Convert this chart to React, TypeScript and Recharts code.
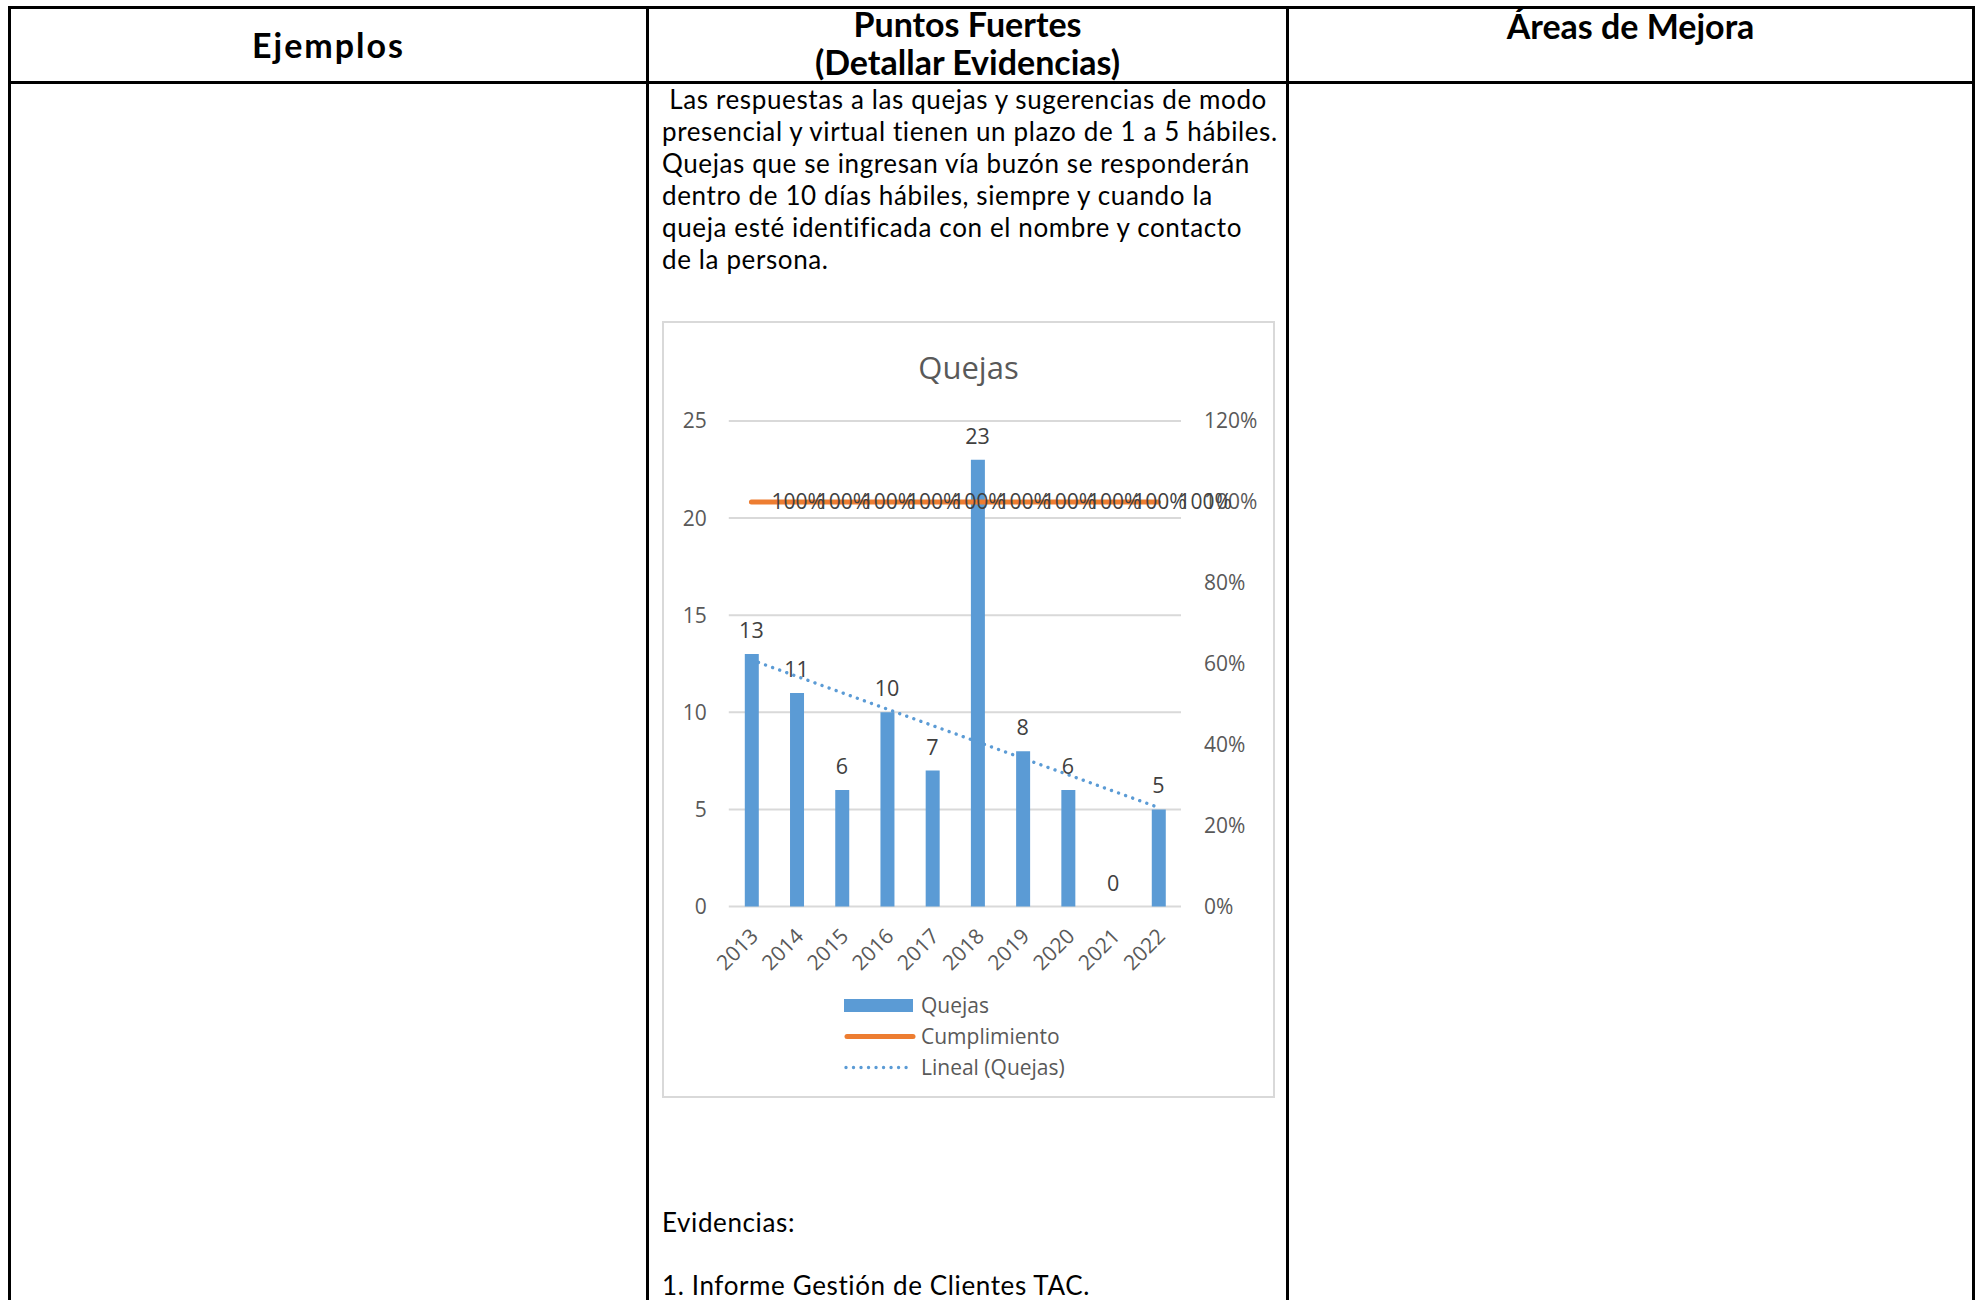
import React from 'react';
import { ComposedChart, Bar, Line, XAxis, YAxis, CartesianGrid, LabelList, Legend } from 'recharts';

const years = ['2013', '2014', '2015', '2016', '2017', '2018', '2019', '2020', '2021', '2022'];
const quejas = [13, 11, 6, 10, 7, 23, 8, 6, 0, 5];
const cumplimiento = [1, 1, 1, 1, 1, 1, 1, 1, 1, 1];
// trendline end points
const tendencia: (number | null)[] = [12.7, null, null, null, null, null, null, null, null, 5.1];
const leftTicks = [0, 5, 10, 15, 20, 25];
const rightTicks = [0, 0.2, 0.4, 0.6, 0.8, 1, 1.2];

const headers = ['Ejemplos', 'Puntos Fuertes', '(Detallar Evidencias)', 'Áreas de Mejora'];
const bodyLines = [
  ' Las respuestas a las quejas y sugerencias de modo',
  'presencial y virtual tienen un plazo de 1 a 5 hábiles.',
  'Quejas que se ingresan vía buzón se responderán',
  'dentro de 10 días hábiles, siempre y cuando la',
  'queja esté identificada con el nombre y contacto',
  'de la persona.',
];
const evidenceLines = ['Evidencias:', '1. Informe Gestión de Clientes TAC.'];
const legendNames = ['Quejas', 'Cumplimiento', 'Lineal (Quejas)'];

const data = years.map((y, i) => ({
  year: y,
  quejas: quejas[i],
  cumplimiento: cumplimiento[i],
  tendencia: tendencia[i],
}));

const CF = "'Open Sans', sans-serif";
const DF = "Lato, sans-serif";
const BLUE = '#5b9bd5';
const ORANGE = '#ed7d31';

const pct = (v: number) => `${Math.round(v * 100)}%`;

const YearTick = (props: any) => {
  const { x, y, payload } = props;
  const ax = x + 8;
  const ay = y + 31;
  return (
    <text x={ax} y={ay} transform={`rotate(-45, ${ax}, ${ay})`} textAnchor="end" fill="#595959" fontSize={21} fontFamily={CF}>
      {payload.value}
    </text>
  );
};

const renderLegend = () => (
  <div style={{ fontFamily: CF, fontSize: 21, color: '#595959' }}>
    {legendNames.map((n, i) => (
      <div key={n} style={{ display: 'flex', alignItems: 'center', height: 31, whiteSpace: 'nowrap' }}>
        <svg width={77} height={31} style={{ display: 'block' }}>
          {i === 0 && <rect x={0} y={9} width={69} height={13} fill={BLUE} />}
          {i === 1 && <line x1={3} y1={15.5} x2={69} y2={15.5} stroke={ORANGE} strokeWidth={5} strokeLinecap="round" />}
          {i === 2 && <line x1={2} y1={15.5} x2={66} y2={15.5} stroke={BLUE} strokeWidth={3.4} strokeDasharray="0.01 7.5" strokeLinecap="round" />}
        </svg>
        <span>{n}</span>
      </div>
    ))}
  </div>
);

const Chart = () => (
  <div style={{ position: 'absolute', left: 662, top: 321, width: 613, height: 777, border: '2px solid #d9d9d9', boxSizing: 'border-box', background: '#fff' }}>
    <div style={{ position: 'absolute', left: 0, top: 28.5, width: '100%', textAlign: 'center', fontFamily: CF, fontSize: 31, lineHeight: 1, color: '#595959' }}>
      Quejas
    </div>
    <ComposedChart width={609} height={773} data={data} margin={{ top: 98, right: 0, bottom: 0, left: 0 }}>
      <CartesianGrid yAxisId="left" vertical={false} stroke="#d9d9d9" strokeWidth={2} />
      <XAxis dataKey="year" height={189.5} axisLine={false} tickLine={false} tickSize={0} tickMargin={0} tick={<YearTick />} interval={0} />
      <YAxis yAxisId="left" orientation="left" width={64.8} domain={[0, 25]} ticks={leftTicks} axisLine={false} tickLine={false} tickSize={0} tickMargin={22} tick={{ fill: '#595959', fontSize: 21, fontFamily: CF }} />
      <YAxis yAxisId="right" orientation="right" width={92} domain={[0, 1.2]} ticks={rightTicks} tickFormatter={pct} axisLine={false} tickLine={false} tickSize={0} tickMargin={23} tick={{ fill: '#595959', fontSize: 21, fontFamily: CF, textAnchor: 'start' }} />
      <Bar yAxisId="left" dataKey="quejas" fill={BLUE} barSize={14} isAnimationActive={false} />
      {/* invisible carrier so every bar value (including 0) gets its data label */}
      <Line yAxisId="left" dataKey="quejas" stroke="none" dot={false} activeDot={false} legendType="none" isAnimationActive={false}>
        <LabelList dataKey="quejas" position="top" offset={16} fill="#404040" fontSize={21.5} fontFamily={CF} />
      </Line>
      <Line yAxisId="left" dataKey="tendencia" connectNulls stroke={BLUE} strokeWidth={3.4} strokeDasharray="0.01 7.5" strokeLinecap="round" dot={false} activeDot={false} isAnimationActive={false} />
      <Line yAxisId="right" dataKey="cumplimiento" stroke={ORANGE} strokeWidth={5} strokeLinecap="round" dot={false} activeDot={false} isAnimationActive={false}>
        <LabelList dataKey="cumplimiento" position="right" offset={20} formatter={(v: any) => pct(Number(v))} fill="#404040" fontSize={21} fontFamily={CF} />
      </Line>
      <Legend layout="vertical" align="center" verticalAlign="middle" content={renderLegend} wrapperStyle={{ left: 180, top: 666.5, width: 'auto', height: 'auto' }} />
    </ComposedChart>
  </div>
);

const line = (left: number, top: number, width: number, height: number) => (
  <div style={{ position: 'absolute', left, top, width, height, background: '#000' }} />
);

export default function App() {
  const hd = { position: 'absolute' as const, fontFamily: DF, fontWeight: 700, fontSize: 34, lineHeight: 1, color: '#000', textAlign: 'center' as const, whiteSpace: 'nowrap' as const };
  const bd = { position: 'absolute' as const, left: 662, fontFamily: DF, fontSize: 26, letterSpacing: 0.62, lineHeight: 1, color: '#000', whiteSpace: 'pre' as const };
  return (
    <div style={{ position: 'fixed', left: 0, top: 0, width: 1977, height: 1300, overflow: 'hidden', background: '#fff' }}>
      {line(8, 6, 1967, 3)}
      {line(8, 6, 3, 1294)}
      {line(1972, 6, 3, 1294)}
      {line(8, 81, 1967, 3)}
      {line(646, 6, 3, 1294)}
      {line(1286, 6, 3, 1294)}
      <div style={{ ...hd, left: 11, width: 635, top: 28, letterSpacing: 2 }}>{headers[0]}</div>
      <div style={{ ...hd, left: 649, width: 637, top: 7.2 }}>{headers[1]}</div>
      <div style={{ ...hd, left: 649, width: 637, top: 45 }}>{headers[2]}</div>
      <div style={{ ...hd, left: 1289, width: 683, top: 8.5 }}>{headers[3]}</div>
      {bodyLines.map((t, i) => (
        <div key={i} style={{ ...bd, top: 99.6 + 32 * i - 13.5 }}>{t}</div>
      ))}
      <div style={{ ...bd, top: 1222 - 13.5 }}>{evidenceLines[0]}</div>
      <div style={{ ...bd, top: 1285 - 13.5 }}>{evidenceLines[1]}</div>
      <Chart />
    </div>
  );
}
